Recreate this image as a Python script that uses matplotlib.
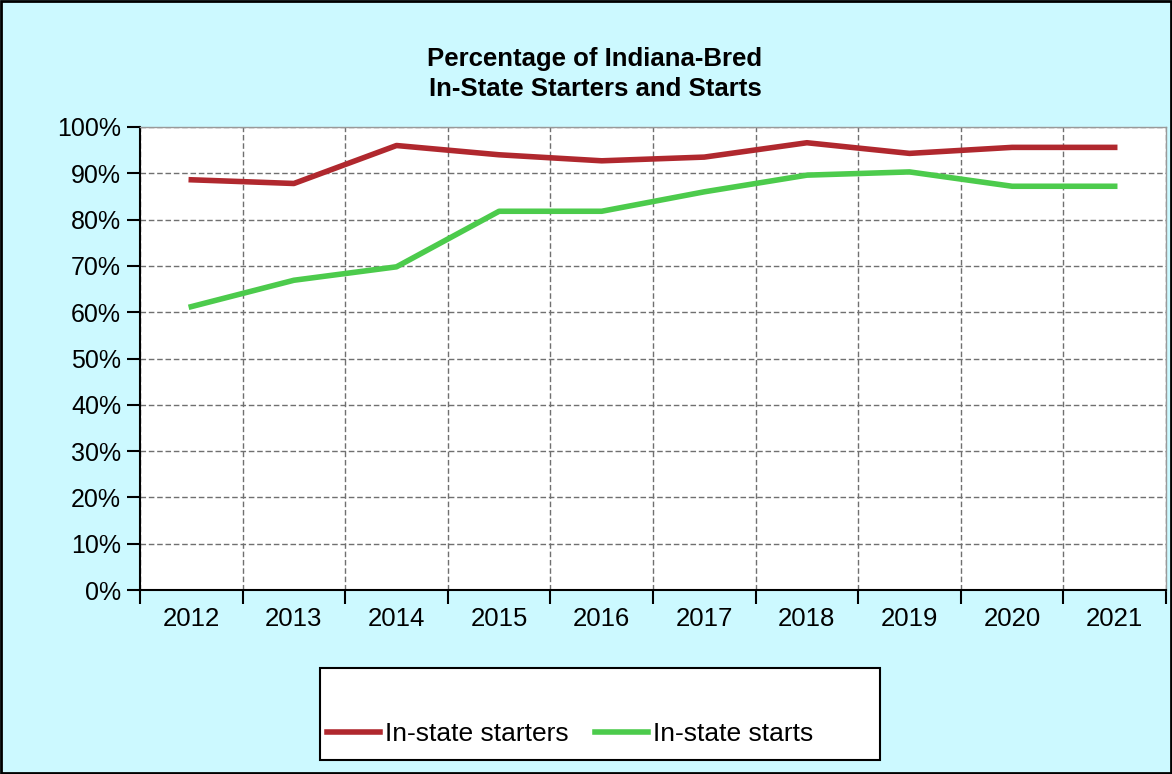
import matplotlib as mpl
mpl.use('Agg')
import matplotlib.pyplot as plt
from matplotlib.patches import Rectangle
from matplotlib.ticker import FixedLocator, PercentFormatter

plt.rcParams['font.family'] = ['Liberation Sans', 'DejaVu Sans']

years = ['2012', '2013', '2014', '2015', '2016', '2017', '2018', '2019', '2020', '2021']
starters = [88.6, 87.8, 96.0, 94.0, 92.7, 93.5, 96.6, 94.3, 95.6, 95.6]
starts = [61.2, 66.9, 69.8, 81.8, 81.8, 86.0, 89.6, 90.3, 87.2, 87.2]
series_names = ['In-state starters', 'In-state starts']
series_colors = ['#b0282e', '#4ccb4c']

bg = '#ccf9ff'
fig = plt.figure(figsize=(11.72, 7.74), dpi=100, facecolor=bg)
ax = fig.add_axes([140/1172, 1 - 590/774, 1026/1172, 463/774])
ax.set_facecolor('white')

x = list(range(len(years)))
ax.plot(x, starters, '-', color=series_colors[0], linewidth=4, label=series_names[0])
ax.plot(x, starts, '-', color=series_colors[1], linewidth=4, label=series_names[1])

ax.set_xlim(-0.5, len(years) - 0.5)
ax.set_ylim(0, 100)
ax.set_xticks(x)
ax.set_xticklabels(years, fontsize=18.5)
ax.xaxis.set_minor_locator(FixedLocator([i - 0.5 for i in range(len(years) + 1)]))
ax.tick_params(axis='x', which='major', length=0, pad=12)
ax.tick_params(axis='x', which='minor', length=10, width=1.5, direction='out', color='black')
ax.set_yticks(range(0, 101, 10))
ax.yaxis.set_major_formatter(PercentFormatter(decimals=0))
ax.tick_params(axis='y', length=9.5, width=1.5, labelsize=18, pad=4)

ax.grid(True, axis='y', which='major', color='#707070', linestyle=(0, (4, 2)), linewidth=1)
ax.grid(True, axis='x', which='minor', color='#707070', linestyle=(0, (4, 2)), linewidth=1)
ax.grid(False, axis='x', which='major')

for s in ['left', 'bottom']:
    ax.spines[s].set_linewidth(1.5)
    ax.spines[s].set_color('black')
for s in ['top', 'right']:
    ax.spines[s].set_linewidth(1)
    ax.spines[s].set_color('#999999')

fig.text(595/1172, 1 - 74/774, 'Percentage of Indiana-Bred\nIn-State Starters and Starts',
         ha='center', va='center', fontsize=18.5, fontweight='bold', linespacing=1.3)

# legend box
fig.patches.append(Rectangle((320/1172, 1 - 760/774), 560/1172, 92/774,
                             transform=fig.transFigure, facecolor='white',
                             edgecolor='black', linewidth=1.5))
fig.legend(loc='center left', bbox_to_anchor=(314/1172, 1 - 734/774), ncol=2,
           frameon=False, fontsize=19, handlelength=2.0, handletextpad=0.2,
           columnspacing=1.0, borderpad=0)

# outer border
fig.patches.append(Rectangle((0.001, 0.001), 0.998, 0.998, transform=fig.transFigure,
                             facecolor='none', edgecolor='black', linewidth=2))

fig.savefig('out.png', facecolor=bg)
